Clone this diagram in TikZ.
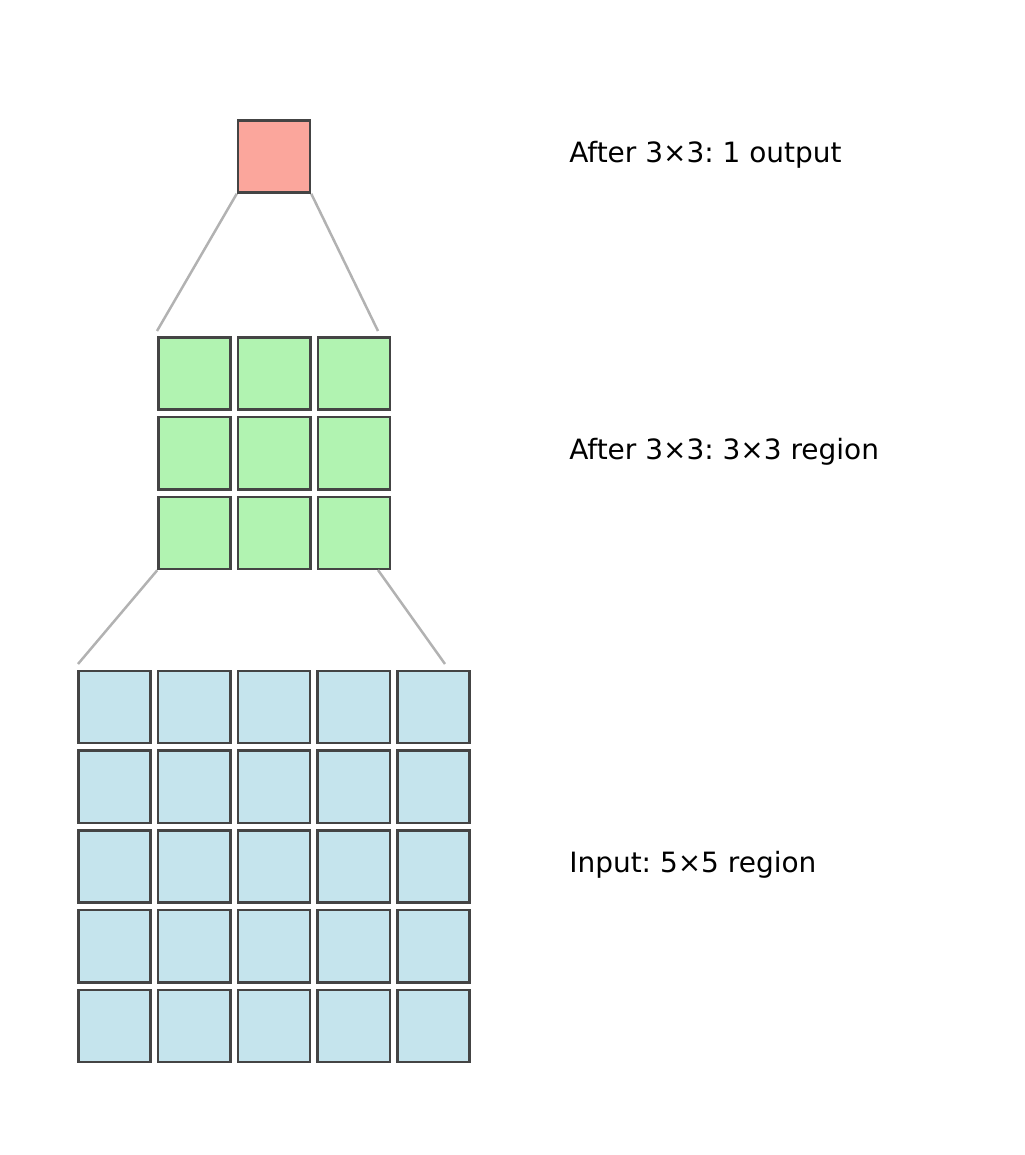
\documentclass[tikz,border=0pt]{standalone}
\usepackage{fontspec}
\setmainfont{DejaVu Sans}
\usetikzlibrary{positioning}
\frenchspacing
\definecolor{edgegray}{HTML}{444444}
\definecolor{linkgray}{HTML}{B2B2B2}
\definecolor{outfill}{HTML}{FBA69C}
\definecolor{midfill}{HTML}{B1F3B1}
\definecolor{infill}{HTML}{C5E4ED}
\tikzstyle{cell} = [draw=edgegray, line width=1.8pt,
                    rectangle, inner sep=0pt,
                    minimum size=0.72in]
\tikzstyle{outcell} = [cell, fill=outfill]
\tikzstyle{midcell} = [cell, fill=midfill]
\tikzstyle{incell} = [cell, fill=infill]
\tikzstyle{link} = [draw=linkgray, line width=1.8pt]
\tikzstyle{caption} = [anchor=west, inner sep=0pt,
                       font=\fontsize{20.2}{24}\selectfont]

\begin{document}
\begin{tikzpicture}[x=0.01in, y=-0.01in]%
  \useasboundingbox (0,0) rectangle (1025,1155);
  % input layer
  \foreach \r in {1,...,5}
    \foreach \c in {1,...,5}
      \node [incell] (in\r\c) at ({114.5+79.75*(\c-1)}, {707+79.75*(\r-1)}) {};
  % middle layer
  \foreach \r in {1,2,3}
    \foreach \c in {1,2,3}
      \node [midcell] (mid\r\c) at ({194.5+79.75*(\c-1)}, {373.5+79.75*(\r-1)}) {};
  % output
  \node [outcell] (out) at (274,156.5) {};

  \coordinate (midtl) at (157,331);
  \coordinate (midtr) at (378,331);
  \coordinate (midbr) at (378,570);
  \coordinate (intl) at (78,664);
  \coordinate (intr) at (445,664);
  \draw [link] (out.south west) -- (midtl);
  \draw [link] (out.south east) -- (midtr);
  \draw [link] (mid31.south west) -- (intl);
  \draw [link] (midbr) -- (intr);

  \node [caption] (capout) at (569,155) {After 3×3: 1 output};
  \node [caption] (capmid) at (569,452) {After 3×3: 3×3 region};
  \node [caption] (capin) at (569,865) {Input: 5×5 region};
\end{tikzpicture}
\end{document}
